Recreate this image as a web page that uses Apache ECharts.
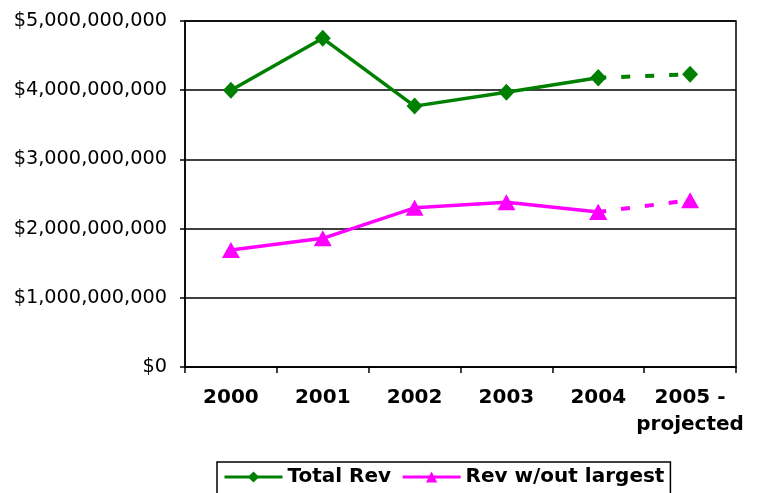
<!DOCTYPE html>
<html>
<head>
<meta charset="utf-8">
<script src="https://cdn.jsdelivr.net/npm/echarts@6/dist/echarts.min.js"></script>
<style>
  html, body { margin: 0; padding: 0; background: #fff; }
  #chart { width: 759px; height: 493px; }
</style>
</head>
<body>
<div id="chart"></div>
<script>
// Yearly revenue, actuals 2000-2004 plus a projection for 2005
const years = ['2000', '2001', '2002', '2003', '2004', '2005 -\nprojected'];
const totalRev = [4.00e9, 4.75e9, 3.77e9, 3.97e9, 4.18e9, 4.23e9];
const revWithoutLargest = [1.69e9, 1.86e9, 2.30e9, 2.38e9, 2.24e9, 2.41e9];
const yTicks = [0, 1e9, 2e9, 3e9, 4e9, 5e9];
const projectedFrom = 4; // index of last actual year

const GREEN = '#008000';
const MAGENTA = '#ff00ff';
const FONT = '"DejaVu Sans", Verdana, sans-serif';

// Actual part: solid line up to the last actual year
function actual(values) {
  return values.map((v, i) => (i <= projectedFrom ? v : null));
}
// Projected part: dashed segment from the last actual year onward
function projected(values) {
  return values.map((v, i) => (i >= projectedFrom ? v : null));
}

function money(v) {
  return '$' + Math.round(v).toLocaleString('en-US');
}

const chart = echarts.init(document.getElementById('chart'));
chart.setOption({
  animation: false,
  grid: {
    left: 185, right: 23, top: 21, bottom: 126,
    show: true, borderColor: '#000', borderWidth: 1.5, backgroundColor: 'transparent'
  },
  legend: {
    data: ['Total Rev', 'Rev w/out largest'],
    left: 217, top: 462,
    itemWidth: 58, itemHeight: 14, itemGap: 10,
    padding: [5, 6, 8, 6],
    borderColor: '#000', borderWidth: 1.5,
    lineStyle: { width: 3 },
    textStyle: { fontFamily: FONT, fontSize: 20, fontWeight: 'bold', color: '#000' }
  },
  xAxis: {
    type: 'category',
    data: years,
    boundaryGap: true,
    axisLine: { lineStyle: { color: '#000', width: 1.5 } },
    axisTick: { show: true, length: 6, lineStyle: { color: '#000', width: 1.5 } },
    axisLabel: {
      interval: 0, margin: 17, color: '#000',
      fontFamily: FONT, fontSize: 20, fontWeight: 'bold', lineHeight: 27
    }
  },
  yAxis: {
    type: 'value',
    min: yTicks[0], max: yTicks[yTicks.length - 1], interval: yTicks[1] - yTicks[0],
    axisLine: { show: true, lineStyle: { color: '#000', width: 1.5 } },
    axisTick: { show: true, length: 5, lineStyle: { color: '#000', width: 1.5 } },
    splitLine: { lineStyle: { color: '#000', width: 1.5 } },
    axisLabel: {
      margin: 18, color: '#000', fontFamily: FONT, fontSize: 19.3,
      formatter: money
    }
  },
  series: [
    {
      name: 'Total Rev', type: 'line', data: actual(totalRev),
      color: GREEN, lineStyle: { width: 3.5, color: GREEN },
      symbol: 'diamond', symbolSize: [16, 17],
      itemStyle: { color: GREEN }, z: 3
    },
    {
      name: 'Total Rev (projected)', type: 'line', data: projected(totalRev),
      lineStyle: { width: 4, color: GREEN, type: [9, 15], dashOffset: 1 },
      symbol: 'diamond', symbolSize: [16, 17],
      itemStyle: { color: GREEN }, z: 2
    },
    {
      name: 'Rev w/out largest', type: 'line', data: actual(revWithoutLargest),
      color: MAGENTA, lineStyle: { width: 3.5, color: MAGENTA },
      symbol: 'triangle', symbolSize: [18, 16],
      itemStyle: { color: MAGENTA }, z: 3
    },
    {
      name: 'Rev w/out largest (projected)', type: 'line', data: projected(revWithoutLargest),
      lineStyle: { width: 4, color: MAGENTA, type: [9, 15], dashOffset: 1 },
      symbol: 'triangle', symbolSize: [18, 16],
      itemStyle: { color: MAGENTA }, z: 2
    }
  ]
});
</script>
</body>
</html>
